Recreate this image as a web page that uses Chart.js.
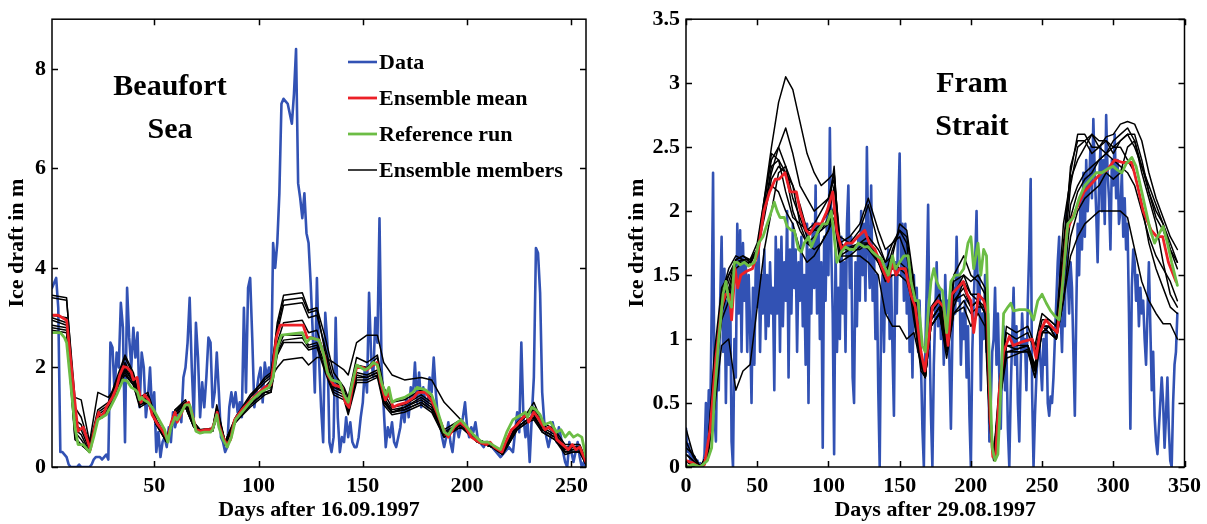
<!DOCTYPE html>
<html>
<head>
<meta charset="utf-8">
<script src="https://cdn.jsdelivr.net/npm/chart.js@4.4.0/dist/chart.umd.min.js"></script>
<style>
  html, body { margin: 0; padding: 0; background: #fff; }
  #wrap { position: relative; width: 1207px; height: 524px; overflow: hidden; }
  .panel { position: absolute; top: 0; height: 524px; }
  #left { left: 0; width: 600px; }
  #right { left: 600px; width: 607px; }
</style>
</head>
<body>
<div id="wrap">
  <div class="panel" id="left"><canvas id="beaufort" width="600" height="524"></canvas></div>
  <div class="panel" id="right"><canvas id="fram" width="607" height="524"></canvas></div>
</div>
<script>
// ---------- Beaufort Sea (left) ----------
const beaufortXTicks = [50, 100, 150, 200, 250];
const beaufortYTicks = [0, 2, 4, 6, 8];

// daily observed ice draft, days 1..257
const beaufortData = [
  3.6, 3.7, 3.8, 3.2, 0.3, 0.3, 0.25, 0.2, 0.05, 0,
  0, 0, 0, 0.05, 0, 0, 0, 0, 0, 0.05,
  0.15, 0.2, 0.2, 0.2, 0.15, 0.2, 0.25, 0.15, 2.5, 2.4,
  1.5, 2.3, 2.0, 3.3, 2.8, 0.5, 3.6, 2.6, 2.0, 2.8,
  2.2, 2.7, 1.2, 2.3, 2.0, 1.0, 1.4, 2.0, 1.1, 1.5,
  0.3, 0.7, 0.2, 0.5, 0.6, 0.4, 0.8, 0.5, 1.1, 0.8,
  1.0, 1.2, 0.9, 1.8, 2.0, 2.5, 3.4, 2.0, 1.0, 2.9,
  2.2, 1.0, 1.7, 1.2, 1.8, 2.6, 2.5, 1.2, 1.5, 2.3,
  1.5, 0.6, 0.5, 0.3, 0.4, 1.2, 1.5, 1.2, 1.5, 1.1,
  1.3, 1.0, 3.2, 1.5, 3.6, 3.8, 2.6, 1.2, 1.5, 1.8,
  2.0, 1.3, 2.1, 1.8, 2.0, 1.7, 4.5, 4.0, 4.5, 5.5,
  7.3, 7.4, 7.35, 7.3, 7.1, 6.9, 7.5, 8.4, 5.7, 5.4,
  5.0, 5.5, 4.7, 4.5, 3.7, 2.7, 1.5, 3.8, 2.2, 1.2,
  0.5, 3.1, 2.5, 0.5, 0.3, 0.6, 3.0, 1.0, 0.3, 0.6,
  0.5, 1.0, 0.6, 0.9, 0.5, 0.4, 0.4, 0.6, 1.0, 1.3,
  2.0, 1.5, 3.5, 2.2, 1.8, 3.0, 2.5, 5.0, 2.0, 1.2,
  0.4, 0.8, 0.6, 0.9, 0.5, 0.4, 0.6, 0.8, 1.2, 0.9,
  1.4, 1.0, 1.6, 1.4, 2.1, 1.3, 1.9, 1.2, 1.6, 1.3,
  1.2, 1.8, 1.5, 2.2, 1.5, 1.0, 0.9, 0.6, 0.4, 0.6,
  0.9, 0.5, 0.3, 0.7, 0.8, 0.6, 0.8, 1.0, 1.3, 0.8,
  0.6, 0.8, 0.7, 0.9, 0.6, 0.5, 0.45, 0.4, 0.5, 0.5,
  0.45, 0.4, 0.35, 0.3, 0.25, 0.2, 0.25, 0.3, 0.35, 0.4,
  0.35, 0.3, 0.7, 1.1, 0.7, 2.5, 1.0, 0.6, 0.9, 0.1,
  1.0, 1.8, 4.4, 4.3, 3.5, 1.5, 0.9, 0.6, 0.4, 0.6,
  0.9, 0.7, 0.5, 0.8, 0.6, 0.3, 0.1, 0, 0.5, 0.3,
  0.1, 0.3, 0.5, 0.2, 0.0, 0.1, 0.0
];

const beaufortMeanDays = [
  1, 4, 8, 13.4, 16, 19.4, 21.5, 23.4, 25, 27, 30, 32, 33.5, 35.3, 37, 39, 40, 41.8, 42.7, 43.6,
  45.4, 47.3, 49, 51.8, 53.7, 56.4, 58.2, 60, 61, 62.8, 64.7, 66.5, 68.3, 70, 72, 74.7, 77.5, 79, 80.2, 81,
  83, 84.8, 86.6, 88.5, 92, 97.6, 103, 105.9, 107, 108.5, 110.4, 121.4, 123.3, 125, 129, 131.8, 133.3, 136, 140, 141.6,
  143.4, 145, 147, 150, 151.9, 155, 156.8, 158.6, 160.8, 162.6, 164.5, 167, 171, 174.5, 176.4, 180, 182.8, 185.5, 189.2, 191,
  193.8, 196.5, 199.3, 202, 205.7, 209.3, 211, 213, 216.7, 218.5, 221.3, 224, 226.8, 228.6, 229.5, 232, 233.8, 237.4, 239.3, 242,
  243, 245.8, 248.5, 250.4, 252.2, 254, 257
];
const beaufortMean = [
  3.05, 3.05, 2.95, 0.72, 0.8, 0.35, 0.8, 1.1, 1.0, 1.2, 1.4, 1.6, 1.85, 2.02, 2.0, 1.9, 1.75, 1.8, 1.55, 1.3,
  1.45, 1.35, 1.05, 0.85, 0.75, 0.55, 0.9, 1.1, 0.9, 1.05, 1.25, 1.3, 1.05, 0.75, 0.72, 0.75, 0.75, 0.9, 1.1, 0.85,
  0.6, 0.45, 0.55, 0.95, 1.15, 1.4, 1.6, 1.65, 2.0, 2.6, 2.85, 2.85, 2.6, 2.6, 2.55, 2.2, 1.85, 1.65, 1.6, 1.3,
  1.2, 1.6, 2.0, 2.0, 1.95, 2.05, 2.1, 1.7, 1.35, 1.5, 1.2, 1.25, 1.3, 1.4, 1.5, 1.5, 1.35, 1.1, 0.7, 0.6,
  0.8, 0.9, 0.8, 0.6, 0.5, 0.45, 0.5, 0.4, 0.3, 0.5, 0.75, 0.85, 1.0, 1.05, 0.9, 1.1, 1.0, 0.75, 0.8, 0.7,
  0.55, 0.45, 0.35, 0.45, 0.35, 0.4, 0.1
];

const beaufortRefDays = [
  1, 5, 7, 8, 12, 13.5, 16, 19, 21, 23, 25, 27, 29, 32, 35, 37, 39, 41, 42, 43,
  44, 45, 47, 49, 51, 53, 55, 56.5, 58, 60, 61, 63, 65, 67, 68.5, 70, 72, 74, 77, 78,
  80, 81, 83, 85, 87, 89, 93, 97, 101, 105, 107, 109, 111, 121, 123, 125, 129, 131, 133, 135,
  139, 141, 143, 145, 147, 151, 153, 155, 157, 159, 161, 162.5, 164, 166, 170, 174, 176, 180, 183, 186,
  189, 191, 194, 197, 200, 203, 207, 210, 212, 214, 216, 219, 222, 226, 228, 229, 231, 233, 235, 237,
  240, 243, 245, 247, 249, 251, 253, 255, 257
];
const beaufortRef = [
  2.7, 2.7, 2.6, 2.5, 0.8, 0.45, 0.45, 0.3, 0.6, 0.95, 1.0, 1.05, 1.2, 1.45, 1.75, 1.73, 1.6, 1.55, 1.5, 1.35,
  1.4, 1.35, 1.3, 1.2, 1.05, 0.9, 0.75, 0.5, 0.8, 1.0, 0.95, 1.1, 1.25, 1.25, 1.0, 0.72, 0.68, 0.7, 0.7, 0.75,
  1.05, 0.8, 0.55, 0.4, 0.6, 0.95, 1.15, 1.35, 1.5, 1.6, 1.8, 2.4, 2.65, 2.7, 2.5, 2.6, 2.55, 2.3, 1.9, 1.75,
  1.7, 1.45, 1.3, 1.7, 2.05, 1.95, 2.0, 2.1, 2.05, 1.7, 1.45, 1.6, 1.3, 1.35, 1.4, 1.5, 1.6, 1.55, 1.45, 1.1,
  0.7, 0.65, 0.85, 0.95, 0.8, 0.65, 0.5, 0.5, 0.45, 0.4, 0.35, 0.7, 0.95, 1.05, 1.1, 1.0, 1.2, 1.15, 1.05, 0.85,
  0.9, 0.7, 0.75, 0.6, 0.7, 0.6, 0.65, 0.6, 0.2
];

const beaufortMemberDays = [
  1, 8, 12, 15, 19, 23, 28, 33, 36, 40, 43, 47, 51, 56, 60, 65, 69, 72, 78, 80,
  84, 89, 96, 103, 106, 109, 112, 121, 124, 128, 132, 136, 141, 143, 147, 152, 157, 160, 164, 170,
  178, 183, 189, 197, 205, 212, 217, 224, 229, 232, 236, 242, 247, 251, 254, 257
];
const beaufortMember1 = [3.45, 3.4, 1.2, 1.0, 0.45, 1.15, 1.3, 1.9, 2.25, 1.9, 1.4, 1.5, 0.95, 0.6, 1.15, 1.35, 0.9, 0.75, 0.78, 1.2, 0.5, 1.0, 1.45, 1.75, 1.85, 2.9, 3.45, 3.5, 3.15, 3.2, 2.6, 1.9, 1.6, 1.4, 2.2, 2.1, 2.25, 1.6, 1.3, 1.35, 1.55, 1.4, 0.75, 0.95, 0.55, 0.45, 0.3, 0.9, 1.1, 1.3, 0.9, 0.75, 0.45, 0.45, 0.45, 0.15];
const beaufortMember2 = [3.4, 3.35, 1.4, 1.35, 0.5, 1.5, 1.4, 1.7, 2.1, 1.8, 1.35, 1.45, 0.9, 0.55, 1.1, 1.3, 0.85, 0.72, 0.75, 1.15, 0.5, 0.95, 1.4, 1.7, 1.8, 2.0, 2.15, 2.2, 2.05, 2.2, 2.2, 2.1, 1.95, 1.85, 2.5, 2.65, 2.65, 2.1, 1.85, 1.75, 1.8, 1.75, 1.3, 0.95, 0.55, 0.45, 0.3, 0.85, 1.05, 1.2, 0.85, 0.7, 0.4, 0.4, 0.4, 0.1];
const beaufortMember3 = [3.05, 3.0, 0.95, 0.85, 0.4, 1.1, 1.25, 1.85, 2.2, 1.85, 1.35, 1.45, 0.95, 0.55, 1.15, 1.3, 0.9, 0.75, 0.78, 1.25, 0.5, 1.0, 1.4, 1.8, 1.9, 2.8, 3.35, 3.4, 3.1, 3.15, 2.3, 1.6, 1.5, 1.25, 2.05, 2.0, 2.2, 1.5, 1.2, 1.25, 1.45, 1.3, 0.7, 0.9, 0.55, 0.45, 0.3, 0.85, 1.05, 1.15, 0.8, 0.65, 0.35, 0.4, 0.4, 0.1];
const beaufortMember4 = [3.0, 2.9, 0.85, 0.75, 0.35, 1.05, 1.2, 1.75, 2.0, 1.7, 1.3, 1.35, 0.9, 0.55, 1.1, 1.25, 0.85, 0.72, 0.75, 1.1, 0.5, 0.95, 1.3, 1.6, 1.75, 2.7, 3.25, 3.3, 3.0, 3.05, 2.4, 1.75, 1.55, 1.3, 1.9, 1.85, 1.95, 1.4, 1.15, 1.2, 1.4, 1.25, 0.65, 0.9, 0.5, 0.4, 0.3, 0.8, 0.95, 1.05, 0.75, 0.6, 0.35, 0.35, 0.35, 0.05];
const beaufortMember5 = [2.95, 2.85, 0.75, 0.65, 0.3, 1.0, 1.15, 1.75, 2.05, 1.75, 1.3, 1.4, 0.9, 0.55, 1.1, 1.25, 0.85, 0.72, 0.75, 1.1, 0.5, 0.95, 1.3, 1.55, 1.6, 2.35, 2.65, 2.65, 2.45, 2.5, 2.05, 1.55, 1.45, 1.15, 1.85, 1.8, 1.9, 1.35, 1.1, 1.2, 1.35, 1.2, 0.65, 0.85, 0.5, 0.4, 0.3, 0.8, 0.95, 1.05, 0.75, 0.6, 0.3, 0.35, 0.35, 0.05];
const beaufortMember6 = [2.85, 2.8, 0.7, 0.55, 0.3, 1.0, 1.15, 1.7, 1.95, 1.7, 1.25, 1.35, 0.85, 0.5, 1.05, 1.2, 0.8, 0.7, 0.72, 1.05, 0.45, 0.9, 1.25, 1.5, 1.55, 2.3, 2.55, 2.6, 2.4, 2.45, 1.95, 1.5, 1.4, 1.1, 1.75, 1.75, 1.85, 1.3, 1.1, 1.15, 1.3, 1.15, 0.6, 0.85, 0.5, 0.4, 0.25, 0.75, 0.9, 1.0, 0.7, 0.55, 0.3, 0.3, 0.3, 0.05];
const beaufortMember7 = [2.8, 2.75, 0.6, 0.45, 0.3, 1.0, 1.1, 1.7, 1.9, 1.65, 1.25, 1.3, 0.85, 0.5, 1.05, 1.2, 0.8, 0.7, 0.72, 1.05, 0.45, 0.9, 1.25, 1.5, 1.5, 2.25, 2.5, 2.5, 2.35, 2.4, 1.9, 1.45, 1.35, 1.05, 1.7, 1.7, 1.8, 1.25, 1.05, 1.1, 1.25, 1.1, 0.6, 0.8, 0.5, 0.4, 0.25, 0.75, 0.9, 0.95, 0.7, 0.55, 0.25, 0.3, 0.3, 0.05];
const beaufortMember8 = [2.75, 2.7, 0.55, 0.45, 0.3, 0.95, 1.1, 1.65, 1.85, 1.65, 1.2, 1.3, 0.85, 0.5, 1.05, 1.2, 0.8, 0.7, 0.72, 1.0, 0.45, 0.9, 1.2, 1.45, 1.5, 2.5, 2.9, 2.95, 2.7, 2.75, 2.2, 1.65, 1.5, 1.2, 1.8, 1.8, 1.9, 1.35, 1.1, 1.15, 1.3, 1.15, 0.6, 0.85, 0.5, 0.4, 0.3, 0.8, 0.95, 1.0, 0.75, 0.6, 0.35, 0.35, 0.35, 0.1];

// ---------- Fram Strait (right) ----------
const framXTicks = [0, 50, 100, 150, 200, 250, 300, 350];
const framYTicks = [0, 0.5, 1, 1.5, 2, 2.5, 3, 3.5];

// daily observed ice draft, days 0..345
const framData = [
  0.3, 0.12, 0.18, 0.05, 0.12, 0.02, 0.08, 0, 0.05, 0,
  0.03, 0, 0, 0.1, 0.5, 0.15, 0.6, 0.35, 1.2, 2.3,
  0.4, 0.2, 1.0, 0.6, 1.3, 1.8, 0.9, 1.55, 0.5, 1.3,
  0.8, 1.4, 0.2, 0.0, 1.0, 0.7, 1.9, 1.2, 1.85, 0.9,
  1.75, 1.3, 1.6, 0.9, 1.5, 1.1, 0.5, 1.4, 0.8, 1.6,
  1.25, 1.7, 0.9, 1.5, 1.2, 1.7, 1.0, 1.5, 1.1, 1.6,
  1.2, 1.4, 0.6, 1.8, 1.2, 1.7, 0.9, 1.8, 1.1, 1.6,
  1.3, 2.0, 0.7, 1.7, 1.2, 1.9, 1.4, 1.7, 0.9, 1.6,
  1.3, 1.8, 1.1, 1.5, 0.8, 1.9, 0.5, 1.7, 1.2, 1.9,
  1.4, 2.2, 1.2, 1.9, 1.0, 1.6, 0.15, 1.8, 1.3, 2.0,
  1.5, 2.65, 1.7, 1.2, 0.1, 1.7, 0.9, 1.4, 1.0, 1.8,
  1.2, 1.6, 0.9, 1.9, 2.2, 1.4, 1.8, 0.7, 0.5, 1.6,
  1.1, 1.8, 1.3, 2.0, 1.5, 1.9, 1.3, 2.5, 1.7, 1.4,
  2.2, 1.3, 1.7, 1.0, 1.5, 0.6, 0.0, 1.2, 1.5, 0.9,
  1.6, 1.2, 1.7, 1.0, 1.5, 0.9, 0.4, 1.6, 1.2, 2.0,
  2.45, 1.5, 1.9, 1.3, 1.9, 1.2, 1.6, 0.9, 1.4, 0.7,
  1.5, 1.1, 1.4, 0.9, 1.3, 0.8, 0.3, 0.0, 0.9, 1.4,
  2.05, 1.0, 0.4, 0.0, 0.8, 1.2, 1.6, 1.1, 1.4, 1.0,
  1.3, 0.8, 1.5, 1.1, 1.3, 0.8, 0.3, 1.0, 1.4, 1.2,
  1.8, 1.3, 1.5, 0.8, 1.2, 1.0, 1.3, 0.7, 1.1, 0.4,
  0.0, 0.9, 1.3, 1.6, 2.0, 1.2, 1.5, 0.6, 1.2, 1.0,
  1.5, 0.9, 1.2, 0.2, 0.5, 0.9, 1.0, 1.4, 0.8, 1.2,
  0.7, 0.3, 0.9, 1.1, 0.6, 0.9, 0.3, 0.0, 0.6, 1.0,
  1.4, 0.8, 1.1, 0.5, 0.2, 0.8, 1.2, 0.9, 1.0, 0.6,
  1.3, 1.7, 2.25, 0.6, 0.0, 0.4, 0.7, 0.9, 1.0, 0.8,
  0.6, 1.0, 0.8, 1.1, 0.5, 0.4, 0.55, 0.5, 0.7, 1.0,
  1.3, 1.6, 1.8, 1.2, 0.9, 1.4, 1.1, 2.0, 1.5, 1.2,
  1.6, 1.4, 0.9, 0.4, 1.2, 1.9, 1.5, 2.1, 1.7, 2.3,
  1.8, 2.4, 2.0, 2.2, 2.5, 2.1, 2.72, 2.3, 2.0, 1.6,
  2.2, 2.5, 2.0, 2.4, 1.9, 2.75, 2.3, 2.1, 1.7, 2.4,
  2.2, 2.6, 2.1, 2.4, 1.9, 2.0, 2.3, 1.8, 2.1, 1.7,
  1.9, 1.2, 0.3, 1.4, 1.7, 1.6, 1.3, 1.5, 1.1, 1.4,
  1.2, 1.3, 1.0, 0.8, 1.2, 1.6, 1.1, 0.6, 0.9, 0.4,
  0.2, 0.1, 0.3, 0.5, 0.7, 0.5, 0.15, 0.4, 0.7, 0.3,
  0.05, 0.0, 0.5, 0.8, 0.9, 1.2
];

const framMeanDays = [
  0, 5, 9, 13, 17, 21, 25, 27.7, 30.4, 32, 34.5, 36.3, 38.5, 42.5, 46.6, 50.6, 54.7, 58.7, 62.7, 65.4,
  69.5, 73, 77.5, 80.2, 84.3, 87, 91, 95, 99, 103, 105.8, 109.3, 112.5, 116.6, 120.6, 125.5, 128.7, 132.7, 138, 142,
  145, 147.5, 150, 154, 157.8, 161, 165, 167.7, 170.4, 173, 177, 181, 184, 186.6, 190.6, 194.7, 197.4, 200, 202, 205.4,
  209, 211.6, 213.5, 215.4, 217.5, 220, 223, 227, 229.7, 236.4, 243, 245.8, 248.5, 252.5, 256.6, 260.6, 263.3, 267.4, 271.4, 275.4,
  279.5, 283.5, 287.6, 291.6, 295.6, 301, 306.4, 313, 317, 321, 326.6, 330.6, 334.7, 338.7, 344
];
const framMean = [
  0.05, 0.03, 0.0, 0.02, 0.3, 0.85, 1.25, 1.35, 1.35, 1.15, 1.55, 1.4, 1.5, 1.53, 1.55, 1.68, 2.0, 2.15, 2.25, 2.25,
  2.3, 2.15, 2.15, 2.0, 1.85, 1.82, 1.9, 1.9, 2.0, 2.15, 1.85, 1.7, 1.75, 1.75, 1.8, 1.85, 1.75, 1.7, 1.55, 1.45,
  1.6, 1.5, 1.55, 1.55, 1.35, 1.25, 0.9, 0.75, 1.0, 1.25, 1.3, 1.25, 0.95, 1.35, 1.4, 1.45, 1.35, 1.3, 1.05, 1.35,
  1.3, 1.2, 0.4, 0.08, 0.1, 0.6, 0.9, 1.02, 0.95, 0.98, 1.0, 0.85, 1.05, 1.15, 1.1, 1.05, 1.3, 1.85, 1.95, 2.05,
  2.15, 2.2, 2.25, 2.3, 2.32, 2.4, 2.38, 2.38, 2.2, 2.0, 1.85, 1.8, 1.8, 1.6, 1.45
];

const framRefDays = [
  0, 5, 10, 15, 18, 20, 23, 26, 28, 30, 32, 34, 36, 38, 41, 44, 48, 51, 54, 57,
  60, 62, 64, 66, 69, 71, 74, 76, 79, 81, 83, 86, 88, 91, 93, 96, 99, 102, 104, 106,
  109, 112, 115, 118, 121, 125, 128, 131, 134, 137, 140, 142, 145, 147, 150, 153, 156, 158, 161, 163,
  166, 168, 170, 172, 174, 176, 178, 180, 183, 186, 189, 192, 195, 198, 200, 202, 205, 207, 209, 211,
  213, 215, 217, 219, 221, 223, 226, 228, 230, 234, 238, 241, 244, 247, 250, 253, 256, 259, 262, 265,
  268, 272, 276, 280, 284, 288, 292, 296, 300, 303, 306, 309, 313, 316, 320, 323, 326, 329, 332, 335,
  338, 341, 345
];
const framRef = [
  0.0, 0.02, 0.0, 0.05, 0.15, 0.55, 1.0, 1.35, 1.45, 1.3, 1.25, 1.6, 1.6, 1.58, 1.6, 1.57, 1.6, 1.75, 1.8, 1.9,
  2.0, 2.07, 2.0, 1.95, 1.95, 1.88, 1.85, 1.85, 1.7, 1.68, 1.75, 1.8, 1.72, 1.8, 1.85, 1.9, 1.9, 2.0, 1.8, 1.6,
  1.68, 1.72, 1.7, 1.7, 1.75, 1.72, 1.72, 1.68, 1.65, 1.63, 1.55, 1.5, 1.65, 1.55, 1.6, 1.65, 1.65, 1.45, 1.3, 1.3,
  0.95, 0.9, 1.2, 1.45, 1.55, 1.45, 1.4, 1.38, 1.05, 1.45, 1.5, 1.5, 1.55, 1.75, 1.8, 1.55, 1.75, 1.5, 1.7, 1.65,
  0.8, 0.15, 0.05, 0.1, 0.6, 1.2, 1.25, 1.28, 1.22, 1.23, 1.23, 1.22, 1.15, 1.3, 1.35, 1.28, 1.22, 1.18, 1.15, 1.5,
  1.9, 1.95, 2.1, 2.2, 2.25, 2.3, 2.3, 2.33, 2.35, 2.32, 2.3, 2.37, 2.42, 2.35, 2.15, 2.0, 1.85, 1.75, 1.82, 1.88,
  1.75, 1.6, 1.42
];

const framMemberDays = [
  0, 5, 10, 15, 20, 25, 30, 35, 40, 45, 50, 55, 60, 65, 70, 75, 80, 85, 90, 95,
  100, 104, 108, 115, 122, 128, 135, 140, 145, 150, 155, 160, 165, 168, 172, 178, 183, 188, 195, 200,
  205, 210, 213, 216, 220, 225, 232, 240, 245, 250, 255, 260, 265, 270, 275, 280, 285, 290, 295, 300,
  305, 310, 315, 320, 325, 330, 335, 340, 345
];
const framMember1 = [0.3, 0.1, 0.0, 0.1, 0.7, 1.3, 1.5, 1.6, 1.62, 1.62, 1.7, 2.1, 2.5, 2.85, 3.05, 2.95, 2.7, 2.45, 2.3, 2.2, 2.25, 2.3, 1.75, 1.7, 1.75, 1.8, 1.7, 1.6, 1.75, 1.85, 1.8, 1.4, 0.85, 0.7, 1.15, 1.25, 1.0, 1.3, 1.4, 1.25, 1.3, 1.2, 0.45, 0.07, 0.55, 0.95, 0.92, 0.95, 0.8, 1.1, 1.1, 1.0, 1.6, 2.2, 2.5, 2.55, 2.6, 2.5, 2.45, 2.55, 2.6, 2.65, 2.55, 2.35, 2.15, 2.0, 1.9, 1.7, 1.55];
const framMember2 = [0.15, 0.1, 0.0, 0.05, 0.6, 1.2, 1.4, 1.6, 1.6, 1.6, 1.7, 2.0, 2.3, 2.5, 2.65, 2.45, 2.2, 2.1, 2.0, 2.05, 2.1, 2.25, 1.8, 1.75, 1.85, 2.05, 1.75, 1.6, 1.65, 1.9, 1.85, 1.45, 0.85, 0.72, 1.2, 1.3, 0.95, 1.45, 1.5, 1.45, 1.5, 1.4, 0.55, 0.08, 0.6, 1.05, 1.0, 1.05, 0.9, 1.15, 1.15, 1.1, 1.75, 2.3, 2.6, 2.6, 2.5, 2.5, 2.58, 2.6, 2.68, 2.7, 2.68, 2.55, 2.3, 2.1, 1.95, 1.8, 1.7];
const framMember3 = [0.05, 0.0, 0.0, 0.05, 0.45, 0.95, 1.0, 0.6, 0.75, 0.8, 1.25, 1.7, 2.0, 2.3, 2.35, 2.2, 1.9, 1.75, 1.7, 1.75, 1.85, 1.95, 1.6, 1.65, 1.65, 1.6, 1.5, 1.2, 1.1, 1.1, 1.0, 1.05, 0.8, 0.7, 1.1, 1.2, 0.9, 1.2, 1.25, 1.1, 1.2, 1.1, 0.35, 0.05, 0.5, 0.85, 0.88, 0.92, 0.7, 1.1, 1.05, 1.0, 1.3, 1.8, 2.0, 2.1, 2.15, 2.2, 2.3, 2.25, 2.3, 2.5, 2.55, 2.3, 2.1, 1.9, 1.6, 1.35, 1.25];
const framMember4 = [0.1, 0.05, 0.0, 0.1, 0.75, 1.3, 1.45, 1.62, 1.65, 1.6, 1.68, 2.0, 2.35, 2.4, 2.3, 2.0, 1.85, 1.75, 1.8, 1.85, 1.9, 2.0, 1.7, 1.72, 1.75, 1.7, 1.6, 1.45, 1.5, 1.5, 1.45, 1.25, 0.8, 0.72, 1.15, 1.25, 0.95, 1.3, 1.35, 1.25, 1.3, 1.2, 0.4, 0.06, 0.5, 0.9, 0.9, 0.9, 0.7, 1.05, 1.05, 1.0, 1.3, 1.65, 1.8, 1.9, 1.95, 2.0, 2.0, 2.0, 2.0, 1.95, 1.7, 1.45, 1.3, 1.2, 1.12, 1.12, 1.0];
const framMember5 = [0.05, 0.02, 0.0, 0.05, 0.8, 1.35, 1.55, 1.65, 1.62, 1.58, 1.7, 2.05, 2.2, 2.15, 2.0, 1.9, 1.7, 1.6, 1.65, 1.75, 1.85, 2.05, 1.75, 1.8, 1.9, 2.1, 1.85, 1.7, 1.75, 1.8, 1.65, 1.3, 0.85, 0.72, 1.25, 1.35, 1.0, 1.5, 1.65, 1.5, 1.45, 1.35, 0.5, 0.08, 0.65, 1.1, 1.05, 1.1, 0.95, 1.2, 1.15, 1.1, 1.9, 2.25, 2.4, 2.5, 2.6, 2.55, 2.55, 2.5, 2.55, 2.6, 2.5, 2.35, 2.2, 2.05, 1.9, 1.75, 1.6];
const framMember6 = [0.1, 0.05, 0.0, 0.1, 0.9, 1.4, 1.5, 1.62, 1.65, 1.62, 1.75, 2.1, 2.4, 2.5, 2.35, 2.1, 1.95, 1.8, 1.85, 1.9, 2.0, 2.35, 1.65, 1.7, 1.75, 1.75, 1.65, 1.55, 1.6, 1.55, 1.5, 1.3, 0.8, 0.7, 1.1, 1.2, 0.9, 1.25, 1.45, 1.35, 1.3, 1.25, 0.45, 0.07, 0.55, 0.9, 0.92, 0.95, 0.75, 1.05, 1.1, 1.0, 1.55, 2.05, 2.2, 2.3, 2.35, 2.4, 2.45, 2.5, 2.5, 2.4, 2.3, 2.05, 1.75, 1.55, 1.4, 1.25, 1.2];
const framMember7 = [0.2, 0.08, 0.0, 0.05, 0.65, 1.15, 1.3, 1.55, 1.6, 1.6, 1.7, 1.95, 2.25, 2.35, 2.3, 2.2, 2.05, 1.85, 1.85, 1.85, 1.95, 2.2, 1.7, 1.7, 1.7, 1.75, 1.6, 1.5, 1.55, 1.6, 1.55, 1.15, 0.8, 0.7, 1.15, 1.25, 0.95, 1.35, 1.5, 1.35, 1.35, 1.3, 0.5, 0.07, 0.55, 0.95, 0.95, 0.95, 0.78, 1.1, 1.1, 1.05, 1.65, 2.35, 2.55, 2.55, 2.45, 2.5, 2.55, 2.45, 2.55, 2.6, 2.6, 2.4, 2.15, 1.95, 1.85, 1.7, 1.6];
const framMember8 = [0.05, 0.0, 0.0, 0.1, 0.85, 1.3, 1.35, 1.6, 1.62, 1.62, 1.68, 2.05, 2.45, 2.4, 2.15, 1.95, 1.9, 1.85, 1.9, 2.0, 2.1, 2.3, 1.65, 1.65, 1.72, 1.75, 1.6, 1.5, 1.7, 1.85, 1.75, 1.2, 0.75, 0.7, 1.1, 1.2, 0.85, 1.2, 1.3, 1.2, 1.25, 1.25, 0.45, 0.07, 0.55, 0.9, 0.9, 0.9, 0.75, 1.05, 1.1, 1.0, 1.45, 1.95, 2.15, 2.25, 2.3, 2.4, 2.45, 2.4, 2.35, 2.3, 2.2, 2.0, 1.8, 1.65, 1.55, 1.45, 1.3];

// ---------- drawing ----------
const BLUE = '#3252b4';
const RED = '#ec2027';
const GREEN = '#6cbd45';
const FONT = "'Liberation Serif', 'Times New Roman', serif";

Chart.defaults.font.family = FONT;
Chart.defaults.font.weight = 'bold';
Chart.defaults.color = '#000';

function pairUp(days, vals) {
  return vals.map((v, i) => ({ x: days[i], y: v }));
}
function daily(firstDay, vals) {
  return vals.map((v, i) => ({ x: firstDay + i, y: v }));
}

function buildDatasets(dataPts, meanPts, refPts, memberDays, members) {
  const ds = [];
  // dataset 0 is drawn on top
  ds.push({ label: 'Reference run', data: refPts, borderColor: GREEN, borderWidth: 2.8, legendRank: 2 });
  ds.push({ label: 'Ensemble mean', data: meanPts, borderColor: RED, borderWidth: 2.8, legendRank: 1 });
  members.forEach((m, k) => {
    ds.push({ label: 'Ensemble members', data: pairUp(memberDays, m), borderColor: '#000', borderWidth: 1.5, legendRank: k === 0 ? 3 : -1 });
  });
  ds.push({ label: 'Data', data: dataPts, borderColor: BLUE, borderWidth: 2.6, legendRank: 0 });
  return ds;
}

// box around the plot with inward ticks on all four sides
const framePlugin = {
  id: 'frame',
  afterDatasetsDraw(chart) {
    const { ctx, chartArea: a, scales: { x, y } } = chart;
    const len = 6;
    ctx.save();
    ctx.strokeStyle = '#000';
    ctx.lineWidth = 1.5;
    ctx.strokeRect(a.left, a.top, a.right - a.left, a.bottom - a.top);
    ctx.beginPath();
    x.ticks.forEach(t => {
      const px = Math.round(x.getPixelForValue(t.value)) + 0.5;
      ctx.moveTo(px, a.bottom); ctx.lineTo(px, a.bottom - len);
      ctx.moveTo(px, a.top); ctx.lineTo(px, a.top + len);
    });
    y.ticks.forEach(t => {
      const py = Math.round(y.getPixelForValue(t.value)) + 0.5;
      ctx.moveTo(a.left, py); ctx.lineTo(a.left + len, py);
      ctx.moveTo(a.right, py); ctx.lineTo(a.right - len, py);
    });
    ctx.stroke();
    ctx.restore();
  }
};

// region name inside the plot
const labelPlugin = {
  id: 'regionLabel',
  afterDatasetsDraw(chart, args, opts) {
    if (!opts.lines) return;
    const ctx = chart.ctx;
    ctx.save();
    ctx.fillStyle = '#000';
    ctx.font = 'bold 30px ' + FONT;
    ctx.textAlign = 'center';
    ctx.textBaseline = 'alphabetic';
    opts.lines.forEach(l => ctx.fillText(l.text, l.x, l.y));
    ctx.restore();
  }
};

// legend inside the left plot, built from the dataset labels
const insideLegend = {
  id: 'insideLegend',
  afterDatasetsDraw(chart, args, opts) {
    if (!opts.show) return;
    const ctx = chart.ctx;
    const entries = chart.data.datasets.filter(d => d.legendRank >= 0).sort((p, q) => p.legendRank - q.legendRank);
    ctx.save();
    ctx.font = 'bold 22px ' + FONT;
    ctx.textBaseline = 'middle';
    ctx.textAlign = 'left';
    entries.forEach((d, i) => {
      const yy = opts.top + i * opts.step;
      ctx.beginPath();
      ctx.strokeStyle = d.borderColor;
      ctx.lineWidth = d.borderWidth;
      ctx.moveTo(opts.x, yy); ctx.lineTo(opts.x + 29, yy);
      ctx.stroke();
      ctx.fillStyle = '#000';
      ctx.fillText(d.label, opts.x + 31, yy + 1);
    });
    ctx.restore();
  }
};

function makeOptions(cfg) {
  return {
    responsive: false,
    animation: false,
    events: [],
    layout: { padding: cfg.padding },
    elements: { point: { radius: 0 }, line: { tension: 0, borderJoinStyle: 'round', borderCapStyle: 'round' } },
    scales: {
      x: {
        type: 'linear', min: cfg.xMin, max: cfg.xMax,
        grid: { display: false, drawTicks: false }, border: { display: false },
        afterBuildTicks: s => { s.ticks = cfg.xTicks.map(v => ({ value: v })); },
        afterFit: s => { s.height = cfg.xHeight; },
        ticks: { padding: 6, font: { size: 22, weight: 'bold' }, maxRotation: 0, callback: v => String(v) },
        title: { display: true, text: cfg.xTitle, font: { size: 22, weight: 'bold' }, padding: { top: 0, bottom: 0 } }
      },
      y: {
        type: 'linear', min: cfg.yMin, max: cfg.yMax,
        grid: { display: false, drawTicks: false }, border: { display: false },
        afterBuildTicks: s => { s.ticks = cfg.yTicks.map(v => ({ value: v })); },
        afterFit: s => { s.width = cfg.yWidth; },
        ticks: { padding: 6, font: { size: 22, weight: 'bold' }, callback: v => String(v) },
        title: { display: true, text: 'Ice draft in m', font: { size: 22, weight: 'bold' }, padding: { top: 0, bottom: 0 } }
      }
    },
    plugins: {
      legend: { display: false },
      tooltip: { enabled: false },
      regionLabel: { lines: cfg.region },
      insideLegend: cfg.legend
    }
  };
}

new Chart(document.getElementById('beaufort'), {
  type: 'line',
  data: {
    datasets: buildDatasets(
      daily(1, beaufortData),
      pairUp(beaufortMeanDays, beaufortMean),
      pairUp(beaufortRefDays, beaufortRef),
      beaufortMemberDays,
      [beaufortMember1, beaufortMember2, beaufortMember3, beaufortMember4,
       beaufortMember5, beaufortMember6, beaufortMember7, beaufortMember8]
    )
  },
  options: makeOptions({
    padding: { left: 4, right: 14, top: 17, bottom: 0 },
    xMin: 1, xMax: 257, yMin: 0, yMax: 9,
    xTicks: beaufortXTicks, yTicks: beaufortYTicks,
    xHeight: 57, yWidth: 48,
    xTitle: 'Days after 16.09.1997',
    region: [{ text: 'Beaufort', x: 170, y: 95 }, { text: 'Sea', x: 170, y: 138 }],
    legend: { show: true, x: 348, top: 62, step: 36 }
  }),
  plugins: [framePlugin, labelPlugin, insideLegend]
});

new Chart(document.getElementById('fram'), {
  type: 'line',
  data: {
    datasets: buildDatasets(
      daily(0, framData),
      pairUp(framMeanDays, framMean),
      pairUp(framRefDays, framRef),
      framMemberDays,
      [framMember1, framMember2, framMember3, framMember4,
       framMember5, framMember6, framMember7, framMember8]
    )
  },
  options: makeOptions({
    padding: { left: 24, right: 18, top: 17, bottom: 0 },
    xMin: 0, xMax: 350, yMin: 0, yMax: 3.5,
    xTicks: framXTicks, yTicks: framYTicks,
    xHeight: 57, yWidth: 62,
    xTitle: 'Days after 29.08.1997',
    region: [{ text: 'Fram', x: 372, y: 92 }, { text: 'Strait', x: 372, y: 135 }],
    legend: { show: false }
  }),
  plugins: [framePlugin, labelPlugin, insideLegend]
});
</script>
</body>
</html>
